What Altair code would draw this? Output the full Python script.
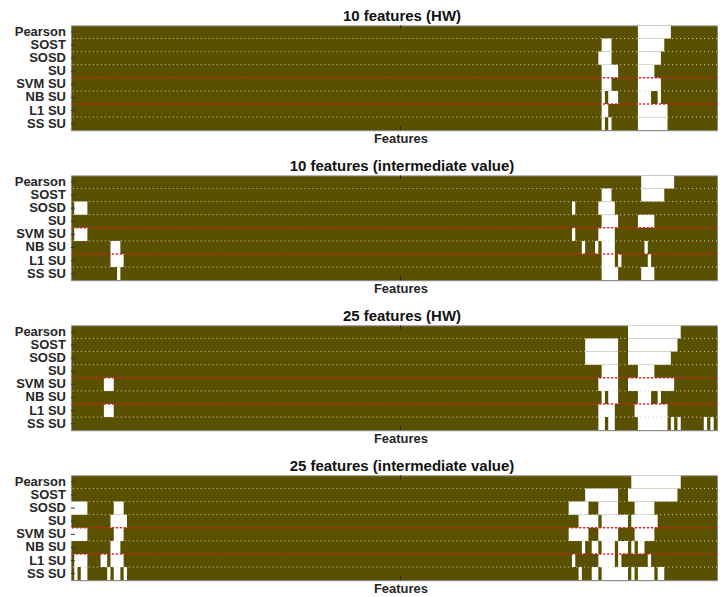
import altair as alt
import pandas as pd

ROWS = ["Pearson", "SOST", "SOSD", "SU", "SVM SU", "NB SU", "L1 SU", "SS SU"]
TITLES = ["10 features (HW)", "10 features (intermediate value)",
          "25 features (HW)", "25 features (intermediate value)"]

# selected feature spans per row: (first feature edge, last feature edge)
HW10 = [
    [(172, 182)],
    [(161, 164), (172, 180)],
    [(160, 164), (172, 179)],
    [(161, 166), (172, 177)],
    [(161, 164), (172, 179)],
    [(161, 162), (163, 166), (172, 176), (178, 179)],
    [(161, 163), (172, 181)],
    [(161, 162), (163, 164), (172, 181)],
]
INT10 = [
    [(173, 183)],
    [(161, 164), (173, 180)],
    [(1, 5), (152, 153), (160, 165)],
    [(161, 166), (172, 177)],
    [(1, 5), (152, 153), (160, 165)],
    [(12, 15), (155, 156), (159, 160), (161, 165), (174, 175)],
    [(12, 16), (161, 165), (166, 167), (175, 176)],
    [(14, 15), (161, 166), (173, 177)],
]
HW25 = [
    [(169, 185)],
    [(156, 166), (169, 184)],
    [(156, 166), (169, 182)],
    [(161, 166), (172, 177)],
    [(10, 13), (160, 166), (169, 183)],
    [(161, 162), (163, 166), (172, 176), (178, 179)],
    [(10, 13), (160, 165), (171, 181)],
    [(160, 162), (163, 165), (172, 181), (182, 183), (184, 185),
     (192, 193), (194, 195), (197, 198)],
]
INT25 = [
    [(170, 185)],
    [(156, 166), (169, 184)],
    [(0, 5), (13, 16), (151, 157), (160, 166), (171, 177)],
    [(12, 17), (154, 160), (161, 169), (170, 178)],
    [(0, 5), (13, 16), (151, 157), (160, 166), (171, 177)],
    [(12, 15), (155, 156), (158, 160), (161, 165), (166, 169), (170, 171), (172, 174)],
    [(1, 5), (9, 11), (12, 16), (152, 153), (160, 165), (166, 167), (175, 176)],
    [(1, 2), (3, 5), (11, 12), (13, 15), (16, 17), (154, 155), (158, 160),
     (161, 169), (170, 171), (172, 177), (178, 180)],
]
PANELS = [HW10, INT10, HW25, INT25]

X_VISIBLE = 196        # visible part of the feature axis (rest is cut off)
CENTER_TICK = [100]
GREY_SEPARATORS = [1, 2, 3, 5, 7]
RED_SEPARATORS = [4, 6]

OLIVE = "#5a5100"
FONT = "Liberation Sans"
PLOT_W = 647
PLOT_H = 105
GAP = 12.2


def panel(title, spans):
    df = pd.DataFrame([
        {"x0": s, "x1": e, "y0": i, "y1": i + 1}
        for i, row in enumerate(spans) for (s, e) in row
    ])
    xs = alt.Scale(domain=[0, X_VISIBLE], nice=False, zero=False)
    ys = alt.Scale(domain=[0, len(ROWS)], reverse=True, nice=False, zero=False)
    xaxis = alt.Axis(
        title="Features", labels=False, ticks=False, domain=False, grid=False,
        titleFontSize=13, titleFontWeight="bold", titleColor="#262626",
        titlePadding=2, titleFont=FONT, titleX=330)

    cells = alt.Chart(df).mark_rect(color="white", clip=True).encode(
        x=alt.X("x0:Q", scale=xs, axis=xaxis),
        x2="x1:Q",
        y=alt.Y("y0:Q", scale=ys, axis=None),
        y2="y1:Q",
    )

    grey = alt.Chart(pd.DataFrame({"y": GREY_SEPARATORS})).mark_rule(
        color="#cfcfc8", strokeDash=[1, 3], strokeWidth=1
    ).encode(y=alt.Y("y:Q", scale=ys, axis=None))

    red = alt.Chart(pd.DataFrame({"y": RED_SEPARATORS})).mark_rule(
        color="#d81e1e", strokeDash=[2, 2], strokeWidth=1.6
    ).encode(y=alt.Y("y:Q", scale=ys, axis=None))

    ldf = pd.DataFrame({"name": ROWS, "y": [i + 0.5 for i in range(len(ROWS))]})
    yticks = alt.Chart(ldf).mark_rule(color="#333333", strokeWidth=1).encode(
        y=alt.Y("y:Q", scale=ys, axis=None), x=alt.value(0), x2=alt.value(4))

    labels = alt.Chart(ldf).mark_text(
        align="right", baseline="middle", dx=-5, fontSize=13, fontWeight="bold",
        font=FONT, color="#262626"
    ).encode(y=alt.Y("y:Q", scale=ys, axis=None), x=alt.value(0), text="name:N")

    cdf = pd.DataFrame({"x": CENTER_TICK})
    xtick_top = alt.Chart(cdf).mark_rule(color="#222222").encode(
        x=alt.X("x:Q", scale=xs, axis=xaxis), y=alt.value(0), y2=alt.value(4))
    xtick_bot = alt.Chart(cdf).mark_rule(color="#222222").encode(
        x=alt.X("x:Q", scale=xs, axis=xaxis), y=alt.value(PLOT_H - 4), y2=alt.value(PLOT_H))

    return alt.layer(cells, grey, red, yticks, labels, xtick_top, xtick_bot).properties(
        width=PLOT_W, height=PLOT_H,
        title=alt.TitleParams(title, fontSize=15, fontWeight="bold", font=FONT,
                              color="#111111", offset=1, anchor="middle", dx=8),
    )


chart = alt.vconcat(*[panel(t, p) for t, p in zip(TITLES, PANELS)], spacing=GAP).properties(
    padding={"left": 6, "top": 0, "right": 0, "bottom": 0}
).configure_view(
    fill=OLIVE, stroke="#8c8c8c", strokeWidth=1
).configure_concat(spacing=GAP)

chart.save("out.html", embed_options={"renderer": "svg", "actions": False})
